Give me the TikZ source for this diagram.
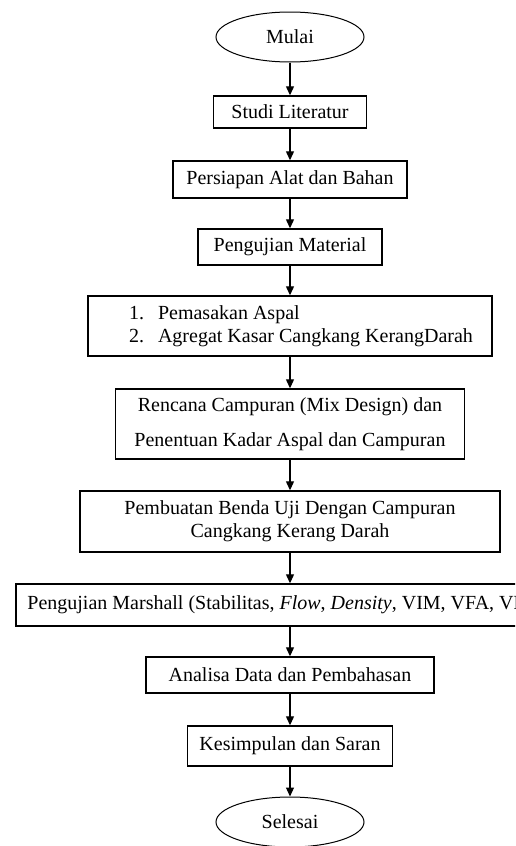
\documentclass[tikz,border=0pt]{standalone}
\usepackage{fontspec}
\setmainfont{Liberation Serif}
\usetikzlibrary{arrows.meta}
\usetikzlibrary{shapes,arrows}

\begin{document}
\begin{tikzpicture}[x=1pt,y=-1pt,->,>={Triangle[length=9pt,width=8pt]},line width=1.2pt,draw=black!100]
	\def \midcol{290}
	\def \rowstart{37}
	\def \rowlist{326}
	\def \rowplan{424}
	\def \rowtest{605}
	\def \rowend{822}
	\tikzstyle{t-node}=[ellipse,draw=black!100,line width=1pt,inner sep=0pt,minimum width=148pt,minimum height=50pt,font=\fontsize{20}{23}\selectfont]
	\tikzstyle{p-node}=[rectangle,draw=black!100,line width=1.4pt,inner sep=0pt,align=center,font=\fontsize{20}{23}\selectfont]
	\useasboundingbox (0,0) rectangle (515,846);
	\clip (0,0) rectangle (515,846);

	% start / end
	\node[t-node] 	(mulai)	at (\midcol,\rowstart)		{Mulai};
	\node[t-node] 	(selesai)	at (\midcol,\rowend)	{Selesai};

	% steps
	\node[p-node,minimum width=153pt,minimum height=32pt] 	(studi)	at (\midcol,112)	{Studi Literatur};
	\node[p-node,minimum width=234pt,minimum height=37pt] 	(persiapan)	at (\midcol,179.5)	{Persiapan Alat dan Bahan};
	\node[p-node,minimum width=184pt,minimum height=36pt] 	(material)	at (\midcol,247)	{Pengujian Material};
	\node[p-node,minimum width=404pt,minimum height=60pt,align=left] 	(daftar)	at (\midcol,\rowlist)	{\hspace*{22pt}1.\hspace{14pt}Pemasakan Aspal\\\hspace*{22pt}2.\hspace{14pt}Agregat Kasar Cangkang KerangDarah};
	\node[p-node,minimum width=349pt,minimum height=70pt] 	(rencana)	at (\midcol,\rowplan)	{Rencana Campuran (Mix Design) dan\\[12pt]Penentuan Kadar Aspal dan Campuran};
	\node[p-node,minimum width=420pt,minimum height=61pt] 	(pembuatan)	at (\midcol,521.5)	{Pembuatan Benda Uji Dengan Campuran\\Cangkang Kerang Darah};
	\node[p-node,minimum width=548pt,minimum height=42pt] 	(marshall)	at (\midcol,\rowtest)	{Pengujian Marshall (Stabilitas, \textit{Flow}, \textit{Density}, VIM, VFA, VMA)};
	\node[p-node,minimum width=288pt,minimum height=36pt] 	(analisa)	at (\midcol,675)	{Analisa Data dan Pembahasan};
	\node[p-node,minimum width=205pt,minimum height=40pt] 	(kesimpulan)	at (\midcol,746)	{Kesimpulan dan Saran};

	\path
		(mulai)	edge	(studi)
		(studi)	edge	(persiapan)
		(persiapan)	edge	(material)
		(material)	edge	(daftar)
		(daftar)	edge	(rencana)
		(rencana)	edge	(pembuatan)
		(pembuatan)	edge	(marshall)
		(marshall)	edge	(analisa)
		(analisa)	edge	(kesimpulan)
		(kesimpulan)	edge	(selesai);

\end{tikzpicture}
\end{document}
